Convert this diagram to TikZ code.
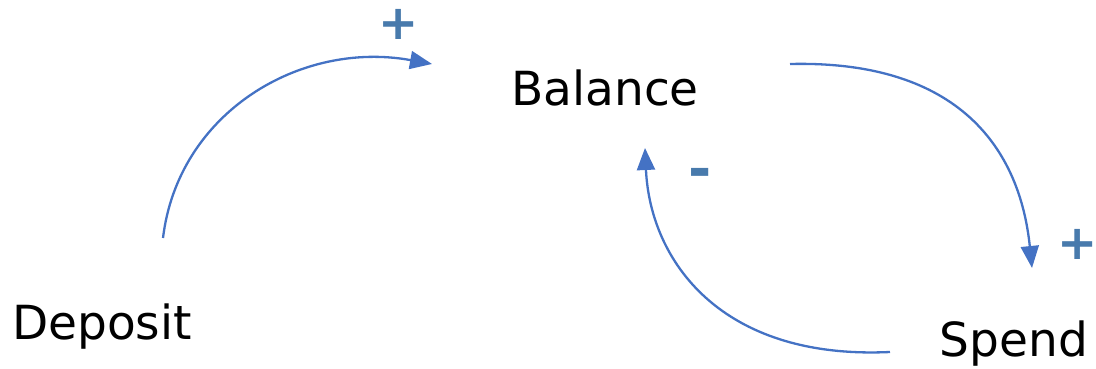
\documentclass[tikz,border=0pt]{standalone}
\usepackage{fontspec}
\setmainfont{DejaVu Sans}
\usetikzlibrary{arrows.meta}
\definecolor{linkblue}{RGB}{68,114,196}
\definecolor{signblue}{RGB}{72,122,172}

\begin{document}
\begin{tikzpicture}[
  x=1pt, y=1pt,
  var/.style={inner sep=0pt, anchor=base, font=\fontsize{47}{50}\selectfont},
  sign/.style={inner sep=0pt, text=signblue, font=\fontsize{48}{50}\selectfont\bfseries},
  link/.style={draw=linkblue, line width=2.3pt, -{Triangle[length=22pt,width=18pt]}}]
\useasboundingbox (0,0) rectangle (1096,369);
\node[var] (balance) at (605,263) {Balance};
\node[var] (deposit) at (102,29) {Deposit};
\node[var] (spend) at (1014,12) {Spend};
% polarity signs
\node[sign] (plus1) at (399,345) {+};
\node[sign, font=\fontsize{56}{60}\selectfont\bfseries] (minus) at (700,191) {-};
\node[sign] (plus2) at (1078,125) {+};
% causal links
\draw[link] ([shift={(61,102)}]deposit.base)
  .. controls +(15,125) and +(-132,24) .. ([shift={(-173,42)}]balance.base);
\draw[link] ([shift={(185,42)}]balance.base)
  .. controls +(170,4) and +(-12,118) .. ([shift={(18,89)}]spend.base);
\draw[link] ([shift={(-124,5)}]spend.base)
  .. controls +(-170,-8) and +(5,-112) .. ([shift={(40,-42)}]balance.base);
\end{tikzpicture}
\end{document}
